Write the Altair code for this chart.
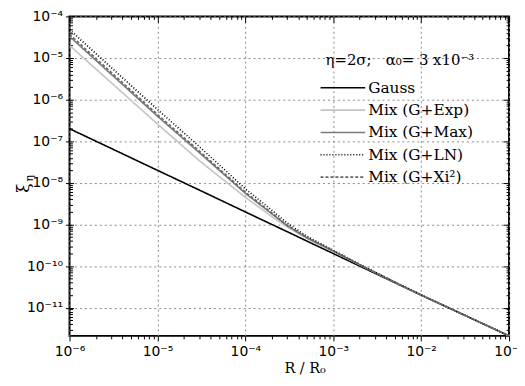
import altair as alt
import pandas as pd

# ---- data ----
r_values = [1e-6, 1e-5, 3e-5, 1e-4, 2e-4, 3e-4, 5e-4, 1e-3, 2e-3, 5e-3, 1e-2, 1e-1]
gauss    = [2.0e-7, 2.0e-8, 6.7e-9, 2.0e-9, 1.0e-9, 6.7e-10, 4.0e-10, 2.0e-10, 1.0e-10, 4.0e-11, 2.0e-11, 2.1e-12]
mix_exp  = [2.0e-5, 2.6e-7, 3.4e-8, 4.5e-9, 1.55e-9, 8.7e-10, 4.6e-10, 2.25e-10, 1.07e-10, 4.1e-11, 2.02e-11, 2.1e-12]
mix_max  = [3.3e-5, 4.0e-7, 5.3e-8, 5.6e-9, 1.8e-9, 9.3e-10, 4.8e-10, 2.3e-10, 1.08e-10, 4.1e-11, 2.02e-11, 2.1e-12]
mix_ln   = [4.8e-5, 5.8e-7, 7.4e-8, 7.2e-9, 2.2e-9, 1.08e-9, 5.2e-10, 2.4e-10, 1.1e-10, 4.15e-11, 2.03e-11, 2.1e-12]
mix_xi2  = [3.7e-5, 4.4e-7, 5.8e-8, 6.0e-9, 1.9e-9, 9.6e-10, 4.9e-10, 2.32e-10, 1.08e-10, 4.1e-11, 2.02e-11, 2.1e-12]

series_names  = ["Gauss", "Mix (G+Exp)", "Mix (G+Max)", "Mix (G+LN)", "Mix (G+Xi\u00b2)"]
series_data   = [gauss, mix_exp, mix_max, mix_ln, mix_xi2]
series_colors = ["#000000", "#c4c4c4", "#7a7a7a", "#000000", "#666666"]
series_dash   = [[1, 0], [1, 0], [1, 0], [1, 2], [3, 2]]
series_width  = [1.6, 1.6, 1.6, 1.0, 1.0]

x_major = [1e-6, 1e-5, 1e-4, 1e-3, 1e-2, 1e-1]
x_major_labels = ["10\u207b\u2076", "10\u207b\u2075", "10\u207b\u2074", "10\u207b\u00b3", "10\u207b\u00b2", "10\u207b\u00b9"]
y_major = [1e-11, 1e-10, 1e-9, 1e-8, 1e-7, 1e-6, 1e-5, 1e-4]
y_major_labels = ["10\u207b\u00b9\u00b9", "10\u207b\u00b9\u2070", "10\u207b\u2079", "10\u207b\u2078",
                  "10\u207b\u2077", "10\u207b\u2076", "10\u207b\u2075", "10\u207b\u2074"]

x_ticks = sorted(set([m * d for d in x_major[:-1] for m in range(1, 10)] + [1e-1]))
y_ticks = sorted(set([m * d for d in [1e-12] + y_major[:-1] for m in range(1, 10)] + [1e-4]))
y_ticks = [v for v in y_ticks if v >= 2.1e-12]

legend_title = "\u03b7=2\u03c3;\u00a0\u00a0\u00a0\u03b1\u2080=\u00a03\u00a0x10\u207b\u00b3"
x_title = "R / R\u2080"

# ---- build tables ----
rows = []
for name, vals in zip(series_names, series_data):
    for r, v in zip(r_values, vals):
        rows.append({"series": name, "r": r, "xi": v})
df = pd.DataFrame(rows)
legend_df = pd.DataFrame({"series": series_names})

W, H = 443, 322
MAJ = "abs(log(datum.value)/LN10 - round(log(datum.value)/LN10)) < 0.01"


def label_expr(vals, labels):
    expr = "''"
    for v, l in zip(vals, labels):
        expr = f"abs(datum.value/{v!r} - 1) < 1e-6 ? '{l}' : ({expr})"
    return expr


def cond(major, minor):
    return {"condition": {"test": MAJ, "value": major}, "value": minor}


xscale = alt.Scale(type="log", domain=[1e-6, 1e-1], nice=False)
yscale = alt.Scale(type="log", domain=[2.1e-12, 1e-4], nice=False)
color_enc = alt.Color("series:N", scale=alt.Scale(domain=series_names, range=series_colors), legend=None)
dash_enc = alt.StrokeDash("series:N", scale=alt.Scale(domain=series_names, range=series_dash), legend=None)
width_enc = alt.StrokeWidth("series:N", scale=alt.Scale(domain=series_names, range=series_width), legend=None)

lines = alt.Chart(df).mark_line(clip=True).encode(
    x=alt.X("r:Q", scale=xscale, axis=alt.Axis(
        values=x_ticks, labelExpr=label_expr(x_major, x_major_labels),
        grid=True, gridColor="#888888", gridDash=[2, 3], gridOpacity=cond(1, 0),
        tickSize=cond(5, 3), tickColor="black", domain=False,
        labelFont="DejaVu Sans", labelFontSize=14, labelColor="black", labelPadding=4,
        labelFlush=False, labelOverlap=False,
        title=x_title, titleFont="DejaVu Serif", titleFontSize=14.5, titleFontWeight="normal",
        titleColor="black", titleX=237, titleY=37, titleBaseline="alphabetic",
        orient="bottom")),
    y=alt.Y("xi:Q", scale=yscale, axis=alt.Axis(
        values=y_ticks, labelExpr=label_expr(y_major, y_major_labels),
        grid=True, gridColor="#888888", gridDash=[2, 3], gridOpacity=cond(1, 0),
        tickSize=cond(4, 0), tickColor="black", domain=False,
        labelFont="DejaVu Sans", labelFontSize=14, labelColor="black", labelPadding=3,
        labelFlush=False, labelOverlap=False, title=None, orient="left")),
    color=color_enc, strokeDash=dash_enc, strokeWidth=width_enc,
    order=alt.Order("r:Q"),
)

ticks_top_right = alt.Chart(df).mark_point(opacity=0).encode(
    x=alt.X("r:Q", scale=xscale, axis=alt.Axis(
        values=x_ticks, labels=False, grid=False, domain=False, title=None,
        tickSize=cond(6, 3), tickColor="black", orient="bottom", offset=-H)),
    y=alt.Y("xi:Q", scale=yscale, axis=alt.Axis(
        values=y_ticks, labels=False, grid=False, domain=False, title=None,
        tickSize=cond(6, 3), tickColor="black", orient="left", offset=-W)),
)

ticks_left_in = alt.Chart(df).mark_point(opacity=0).encode(
    x=alt.X("r:Q", scale=xscale, axis=None),
    y=alt.Y("xi:Q", scale=yscale, axis=alt.Axis(
        values=y_ticks, labels=False, grid=False, domain=False, title=None,
        tickSize=cond(4, 3), tickColor="black", orient="right", offset=-W)),
)

# ---- legend (inside plot, upper right) ----
leg_y = alt.Y("series:N", scale=alt.Scale(type="point", domain=series_names, range=[72, 162], padding=0), axis=None)
leg_lines = alt.Chart(legend_df).mark_rule().encode(
    x=alt.value(253), x2=alt.value(298), y=leg_y,
    color=color_enc, strokeDash=dash_enc, strokeWidth=width_enc,
)
leg_text = alt.Chart(legend_df).mark_text(
    align="left", baseline="middle", font="DejaVu Serif", fontSize=15.5, color="black").encode(
    x=alt.value(301), y=leg_y, text="series:N")
leg_title = alt.Chart(pd.DataFrame({"t": [legend_title]})).mark_text(
    align="left", baseline="middle", font="DejaVu Serif", fontSize=15, color="black").encode(
    x=alt.value(258), y=alt.value(44), text="t:N")

ylab_main = alt.Chart(pd.DataFrame({"t": ["\u03be"]})).mark_text(
    font="DejaVu Serif", fontSize=17, angle=270, color="black").encode(
    text="t:N", x=alt.value(-46), y=alt.value(173))
ylab_sub = alt.Chart(pd.DataFrame({"t": ["\u03b7"]})).mark_text(
    font="DejaVu Serif", fontSize=11, angle=270, color="black").encode(
    text="t:N", x=alt.value(-40), y=alt.value(163))

chart = alt.layer(
    lines, ticks_top_right, ticks_left_in, leg_lines, leg_text, leg_title, ylab_main, ylab_sub
).resolve_scale(y="independent").resolve_axis(
    x="independent", y="independent"
).properties(
    width=W, height=H, autosize=alt.AutoSizeParams(type="none"),
    padding={"left": 62, "top": 7, "right": 8, "bottom": 41},
    background="white",
).configure_view(stroke="black", strokeWidth=2)

chart.save("out.html", embed_options={"renderer": "svg", "actions": False})
